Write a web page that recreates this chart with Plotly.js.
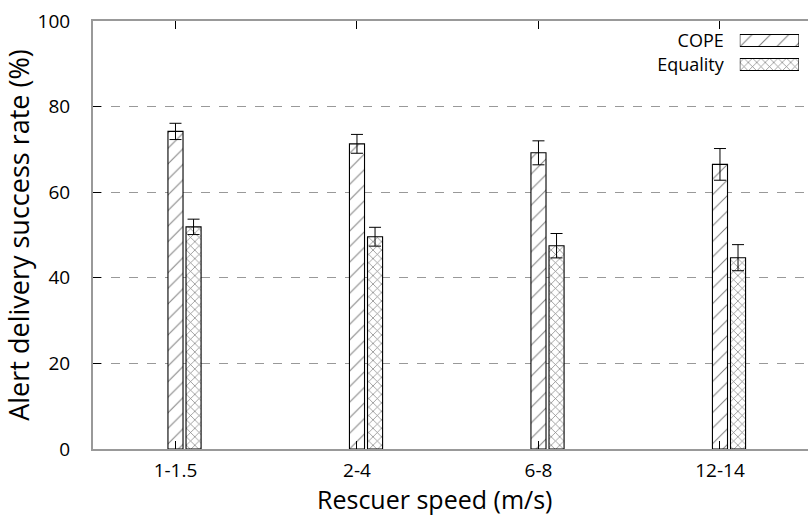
<!DOCTYPE html>
<html>
<head>
<meta charset="utf-8">
<script src="https://cdn.plot.ly/plotly-3.0.1.min.js"></script>
<style>html,body{margin:0;padding:0;background:#fff;}#chart{width:808px;height:516px;}</style>
</head>
<body>
<div id="chart"></div>
<script>
// ---- data ----
var categories = ["1-1.5", "2-4", "6-8", "12-14"];
var seriesNames = ["COPE", "Equality"];
var copeValues = [74.2, 71.3, 69.2, 66.5];
var copeErrors = [1.9, 2.2, 2.8, 3.7];
var equalityValues = [51.9, 49.6, 47.5, 44.7];
var equalityErrors = [1.8, 2.2, 2.85, 3.05];
var yTicks = [0, 20, 40, 60, 80, 100];

// ---- layout helpers ----
var catPos = categories.map(function (c, i) { return i; });
var barW = 0.083;
var eqOffset = 0.0995;
var FONT = "Open Sans, Noto Sans, sans-serif";
var axisGrey = "#999999";

function barTrace(name, xs, ys, errs, shape, size, solidity) {
  return {
    type: "bar", name: name, x: xs, y: ys, width: barW,
    marker: {
      color: "#ffffff",
      line: { color: "#000000", width: 1.1 },
      pattern: { shape: shape, fgcolor: "#000000", bgcolor: "#ffffff", size: size, solidity: solidity, fillmode: "overlay" }
    },
    error_y: { type: "data", array: errs, visible: true, color: "#000000", thickness: 1, width: 6 },
    showlegend: false, hoverinfo: "skip"
  };
}

var traces = [
  barTrace(seriesNames[0], catPos, copeValues, copeErrors, "/", 11, 0.09),
  barTrace(seriesNames[1], catPos.map(function (p) { return p + eqOffset; }), equalityValues, equalityErrors, "x", 6, 0.22),
  // legend swatches (drawn on a small overlay axis, labels are the y tick labels)
  {
    type: "bar", orientation: "h", y: seriesNames, x: seriesNames.map(function () { return 1; }),
    xaxis: "x2", yaxis: "y2", width: 0.5,
    marker: {
      color: "#ffffff", line: { color: "#000000", width: 1.1 },
      pattern: { shape: ["/", "x"], fgcolor: "#000000", bgcolor: "#ffffff", size: [13, 6], solidity: [0.08, 0.22], fillmode: "overlay" }
    },
    showlegend: false, hoverinfo: "skip"
  }
];

var layout = {
  width: 808, height: 516,
  margin: { l: 93, r: 0, t: 20.5, b: 67 },
  paper_bgcolor: "#ffffff", plot_bgcolor: "#ffffff",
  font: { family: FONT, color: "#000000", size: 19 },
  showlegend: false,
  bargap: 0,
  xaxis: {
    range: [-0.4545, 3.485],
    tickmode: "array", tickvals: catPos, ticktext: categories,
    ticks: "inside", ticklen: 8, tickcolor: "#000000", tickwidth: 1,
    showline: true, linecolor: axisGrey, linewidth: 2, mirror: "ticks",
    showgrid: false, zeroline: false, automargin: false,
    ticklabelstandoff: 3,
    tickfont: { size: 19, family: FONT }
  },
  yaxis: {
    range: [0, 100],
    tickmode: "array", tickvals: yTicks,
    ticks: "inside", ticklen: 8, tickcolor: "#000000", tickwidth: 1,
    showline: true, linecolor: axisGrey, linewidth: 2, mirror: false,
    showgrid: true, gridcolor: axisGrey, griddash: "dash", gridwidth: 1,
    zeroline: false, automargin: false,
    ticklabelstandoff: 17,
    tickfont: { size: 19, family: FONT },
    title: { text: "Alert delivery success rate (%)", font: { size: 27, family: FONT }, standoff: 0 }
  },
  xaxis2: {
    domain: [0.9046, 0.9874], range: [0, 1], anchor: "y2",
    visible: false, fixedrange: true
  },
  yaxis2: {
    domain: [0.8705, 0.9825], range: [1.5, -0.5], anchor: "x2",
    type: "category", tickmode: "array", tickvals: seriesNames, ticktext: seriesNames,
    showgrid: false, zeroline: false, showline: false,
    ticks: "", ticklabelstandoff: 15, tickfont: { size: 18, family: FONT }, fixedrange: true
  },
  annotations: [{
    text: "Rescuer speed (m/s)", xref: "paper", yref: "paper",
    x: 0.4785, y: 0, yshift: -50, xanchor: "center", yanchor: "middle",
    showarrow: false, font: { size: 25, family: FONT }
  }]
};

Plotly.newPlot("chart", traces, layout, { staticPlot: true, displayModeBar: false });
</script>
</body>
</html>
